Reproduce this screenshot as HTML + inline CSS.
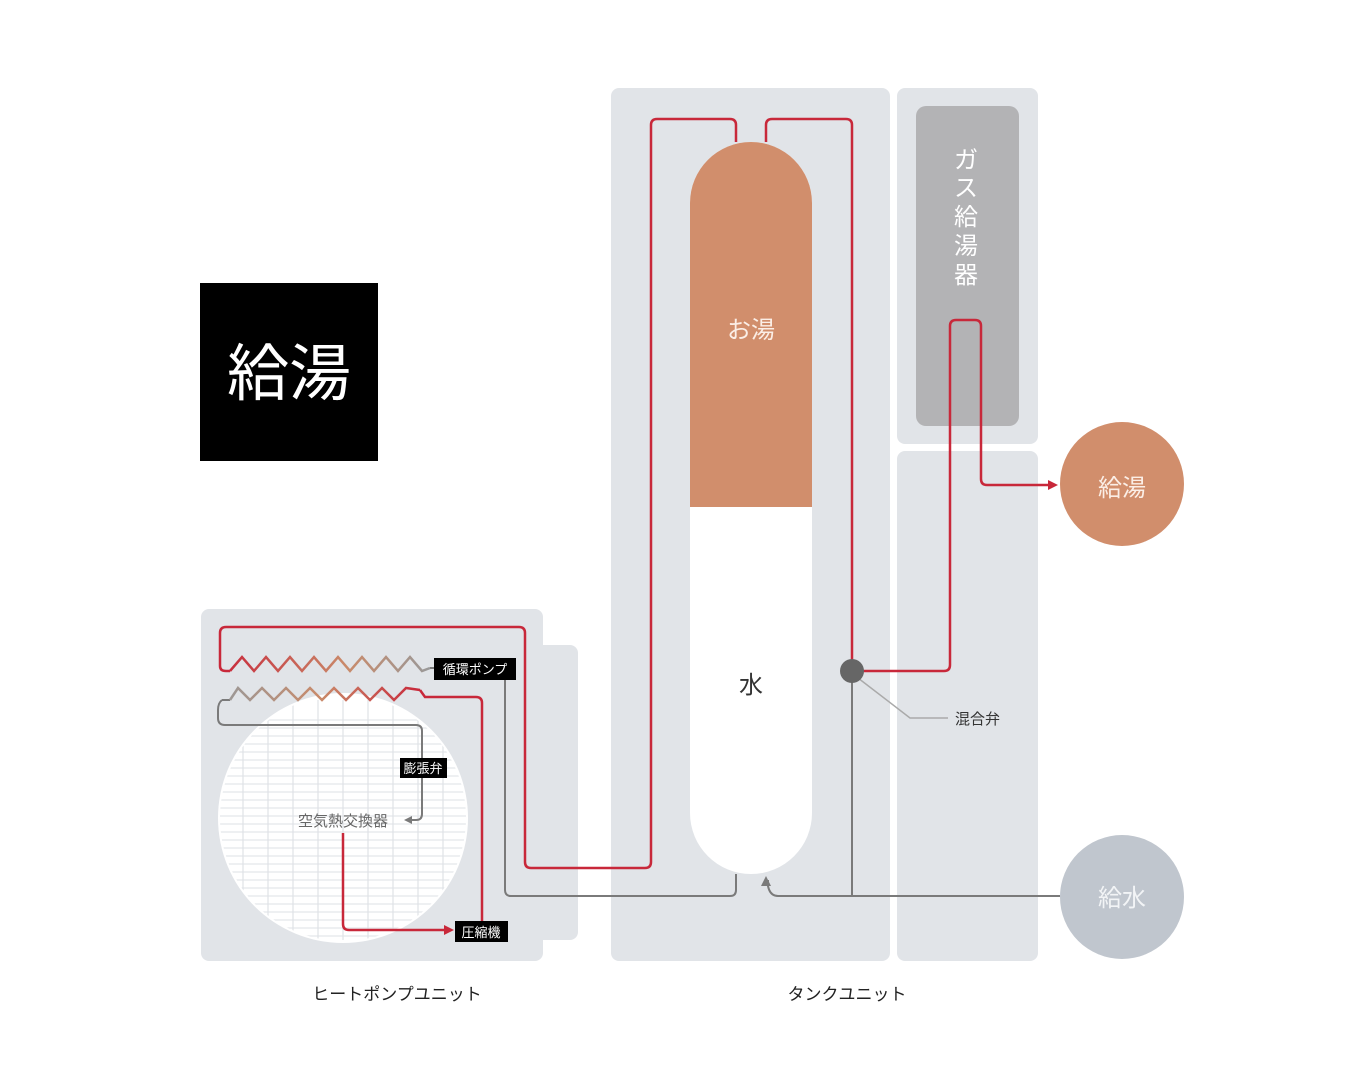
<!DOCTYPE html>
<html><head><meta charset="utf-8"><style>
html,body{margin:0;padding:0;background:#fff;}
svg{display:block;font-family:"Liberation Sans","Noto Sans CJK JP",sans-serif;}
</style></head><body>
<svg width="1358" height="1080" viewBox="0 0 1358 1080" xmlns="http://www.w3.org/2000/svg">
<defs>
<linearGradient id="g1" x1="220" x2="430" y1="0" y2="0" gradientUnits="userSpaceOnUse"><stop offset="0" stop-color="#c8283a"/><stop offset="0.6" stop-color="#c98a6a"/><stop offset="1" stop-color="#999"/></linearGradient>
<linearGradient id="g2" x1="222" x2="420" y1="0" y2="0" gradientUnits="userSpaceOnUse"><stop offset="0" stop-color="#999"/><stop offset="0.5" stop-color="#c98a6a"/><stop offset="1" stop-color="#c8283a"/></linearGradient>
<clipPath id="cc"><circle cx="343" cy="818" r="123"/></clipPath>
</defs>
<!-- title box -->
<rect x="200" y="283" width="178" height="178" fill="#000"/>
<text x="289" y="395" font-size="62" fill="#fff" text-anchor="middle">給湯</text>

<!-- heat pump unit -->
<rect x="201" y="609" width="342" height="352" rx="8" fill="#e1e4e8"/>
<rect x="530" y="645" width="48" height="295" rx="8" fill="#e1e4e8"/>
<circle cx="343" cy="818" r="125" fill="#fff"/>
<g clip-path="url(#cc)" stroke="#e4e6ea" stroke-width="1.2">
<path d="M220 720H470M220 728H470M220 736H470M220 744H470M220 752H470M220 760H470M220 768H470M220 776H470M220 784H470M220 792H470M220 800H470M220 808H470M220 816H470M220 824H470M220 832H470M220 840H470M220 848H470M220 856H470M220 864H470M220 872H470M220 880H470M220 888H470M220 896H470M220 904H470M220 912H470M220 920H470M220 928H470M220 936H470"/>
<path d="M243 700V940M268 700V940M293 700V940M318 700V940M343 700V940M368 700V940M393 700V940M418 700V940M443 700V940" stroke="#dfe2e6"/>
</g>

<!-- tank unit panels -->
<rect x="611" y="88" width="279" height="873" rx="8" fill="#e1e4e8"/>
<rect x="897" y="88" width="141" height="356" rx="8" fill="#e1e4e8"/>
<rect x="897" y="451" width="141" height="510" rx="8" fill="#e1e4e8"/>
<rect x="916" y="106" width="103" height="320" rx="10" fill="#b3b3b5"/>
<text font-size="24" fill="#fff" text-anchor="middle"><tspan x="966" y="168">ガ</tspan><tspan x="966" y="196">ス</tspan><tspan x="966" y="225">給</tspan><tspan x="966" y="254">湯</tspan><tspan x="966" y="283">器</tspan></text>

<!-- tank -->
<path d="M690 203A61 61 0 0 1 812 203V813A61 61 0 0 1 690 813Z" fill="#fff"/>
<path d="M690 203A61 61 0 0 1 812 203V507H690Z" fill="#d18e6c"/>
<text x="751" y="338" font-size="24" fill="#fbeee6" text-anchor="middle">お湯</text>
<text x="751" y="693" font-size="24" fill="#333" text-anchor="middle">水</text>

<!-- gray pipes -->
<g fill="none" stroke="#7a7a7a" stroke-width="2">
<path d="M736 874V890Q736 896 730 896H511Q505 896 505 890V680"/>
<path d="M1060 896H778Q770 896 768 886V880"/>
<path d="M852 672V896"/>
<path d="M222 700H230M222 700Q218 703 218 710V718Q218 725 225 725H416Q422 725 422 731V814Q422 820 416 820H410"/>
<path d="M430 668H437"/>
</g>
<path d="M766 876L761 886H771Z" fill="#7a7a7a"/>
<path d="M404 820L412 816V824Z" fill="#7a7a7a"/>
<path d="M858 678L910 718H948" fill="none" stroke="#aaa" stroke-width="1.5"/>

<!-- red pipes -->
<g fill="none" stroke="#c8283a" stroke-width="2.5">
<path d="M736 142V125Q736 119 730 119H657Q651 119 651 125V862Q651 868 645 868H531Q525 868 525 862V633Q525 627 519 627H226Q220 627 220 633V666Q220 671 226 671H230"/>
<path d="M766 142V125Q766 119 772 119H846Q852 119 852 125V670"/>
<path d="M858 671H944Q950 671 950 665V326Q950 320 956 320H975Q981 320 981 326V479Q981 485 987 485H1050"/>
<path d="M420 690L425 697H476Q482 697 482 703V921"/>
<path d="M343 833V924Q343 930 349 930H446"/>
</g>
<path d="M1058 485L1048 480V490Z" fill="#c8283a"/>
<path d="M454 930L444 925V935Z" fill="#c8283a"/>
<path d="M230 671L242 657L254 671L266 657L278 671L290 657L302 671L314 657L326 671L338 657L350 671L362 657L374 671L386 657L398 671L410 657L422 671L430 668" fill="none" stroke="url(#g1)" stroke-width="2.5"/>
<path d="M230 700L238 688L250 700L262 688L274 700L286 688L298 700L310 688L322 700L334 688L346 700L358 688L370 700L382 688L394 700L406 688L420 690" fill="none" stroke="url(#g2)" stroke-width="2.5"/>

<circle cx="852" cy="671" r="12" fill="#666"/>

<!-- labels -->
<rect x="434" y="658" width="82" height="22" fill="#000"/>
<text x="475" y="674" font-size="13" fill="#fff" text-anchor="middle">循環ポンプ</text>
<rect x="400" y="758" width="47" height="20" fill="#000"/>
<text x="423" y="773" font-size="13" fill="#fff" text-anchor="middle">膨張弁</text>
<rect x="455" y="921" width="53" height="21" fill="#000"/>
<text x="481" y="937" font-size="13" fill="#fff" text-anchor="middle">圧縮機</text>
<text x="343" y="826" font-size="15" fill="#666" text-anchor="middle">空気熱交換器</text>
<text x="955" y="724" font-size="15" fill="#333">混合弁</text>

<circle cx="1122" cy="484" r="62" fill="#d18e6c"/>
<text x="1122" y="496" font-size="24" fill="#fbeee6" text-anchor="middle">給湯</text>
<circle cx="1122" cy="897" r="62" fill="#c0c6ce"/>
<text x="1122" y="906" font-size="24" fill="#f2f4f6" text-anchor="middle">給水</text>

<text x="397" y="1000" font-size="17" fill="#222" text-anchor="middle">ヒートポンプユニット</text>
<text x="847" y="1000" font-size="17" fill="#222" text-anchor="middle">タンクユニット</text>
</svg>
</body></html>
